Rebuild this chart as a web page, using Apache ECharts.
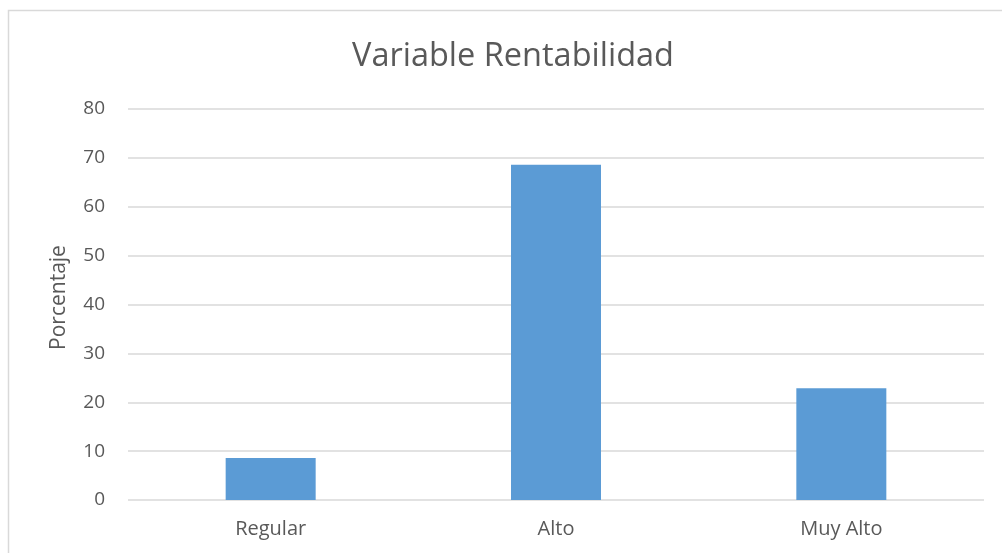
<!DOCTYPE html>
<html>
<head>
<meta charset="utf-8">
<script src="https://cdn.jsdelivr.net/npm/echarts@6/dist/echarts.min.js"></script>
<style>
html,body{margin:0;padding:0;background:#fff;}
#chart{width:1002px;height:553px;}
</style>
</head>
<body>
<div id="chart"></div>
<script>
var categories = ['Regular', 'Alto', 'Muy Alto'];
var values = [8.57, 68.57, 22.86];
var yTicks = [0, 10, 20, 30, 40, 50, 60, 70, 80];

var txt = '#595959';
var font = 'Open Sans';

var option = {
	animation: false,
	textStyle: { fontFamily: font },
	graphic: [{
		type: 'rect',
		shape: { x: 8.5, y: 10.5, width: 1010, height: 600 },
		style: { fill: 'none', stroke: '#d9d9d9', lineWidth: 1.5 },
		silent: true
	}],
	title: {
		text: 'Variable Rentabilidad',
		left: 347,
		top: 35,
		textStyle: { color: txt, fontSize: 32.5, fontWeight: 'normal', fontFamily: font }
	},
	grid: { left: 128, right: 18, top: 109, bottom: 53 },
	xAxis: {
		type: 'category',
		data: categories,
		axisLine: { show: false },
		axisTick: { show: false },
		axisLabel: { color: txt, fontSize: 20, margin: 19 }
	},
	yAxis: {
		type: 'value',
		min: yTicks[0],
		max: yTicks[yTicks.length - 1],
		interval: 10,
		name: 'Porcentaje',
		nameLocation: 'middle',
		nameGap: 58,
		nameTextStyle: { color: txt, fontSize: 21, padding: [0, 0, 0, 14] },
		axisLine: { show: false },
		axisTick: { show: false },
		axisLabel: { color: txt, fontSize: 19, margin: 23 },
		splitLine: { lineStyle: { color: '#d9d9d9', width: 1.5 } }
	},
	series: [{
		type: 'bar',
		data: values,
		barWidth: 90,
		itemStyle: { color: '#5b9bd5' }
	}]
};

var chart = echarts.init(document.getElementById('chart'));
chart.setOption(option);
</script>
</body>
</html>
